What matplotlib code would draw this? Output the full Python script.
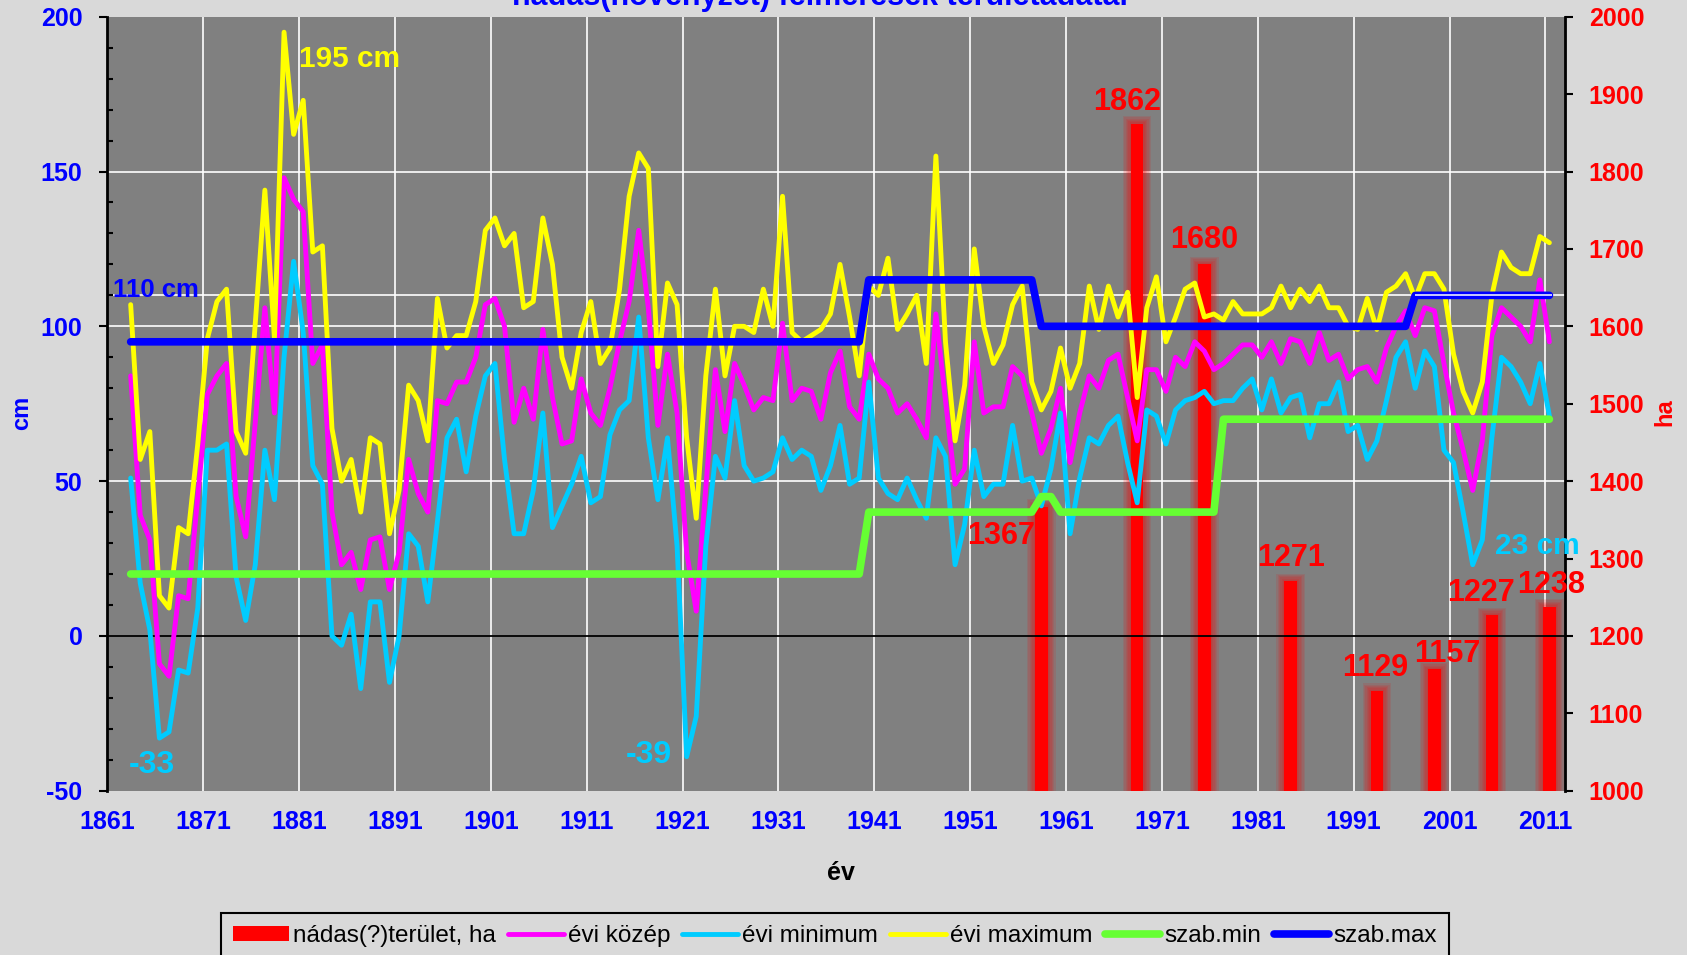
import matplotlib
matplotlib.use('Agg')
import matplotlib.pyplot as plt
from matplotlib.ticker import MultipleLocator

plt.rcParams['font.family'] = ['Liberation Sans', 'DejaVu Sans']
plt.rcParams['font.weight'] = 'bold'
plt.rcParams['axes.unicode_minus'] = False

# --- adatok (leolvasva az ábráról) ---
years = list(range(1863, 2012))

evi_maximum = [
    107, 57, 66, 13, 9, 35, 33, 62, 96, 108,
    112, 66, 59, 101, 144, 96, 195, 162, 173, 124,
    126, 67, 50, 57, 40, 64, 62, 33, 47, 81,
    76, 63, 109, 93, 97, 97, 108, 131, 135, 126,
    130, 106, 108, 135, 120, 90, 80, 98, 108, 88,
    93, 112, 142, 156, 151, 87, 114, 107, 64, 38,
    84, 112, 84, 100, 100, 98, 112, 100, 142, 98,
    95, 97, 99, 104, 120, 103, 84, 113, 110, 122,
    99, 104, 110, 88, 155, 95, 63, 81, 125, 100,
    88, 94, 107, 113, 82, 73, 79, 93, 80, 88,
    113, 99, 113, 103, 111, 77, 106, 116, 95, 103,
    112, 114, 103, 104, 102, 108, 104, 104, 104, 106,
    113, 106, 112, 108, 113, 106, 106, 100, 99, 109,
    99, 111, 113, 117, 109, 117, 117, 112, 91, 79,
    72, 82, 110, 124, 119, 117, 117, 129, 127,
]

evi_kozep = [
    84, 39, 31, -9, -13, 13, 12, 45, 78, 84,
    88, 45, 32, 69, 106, 72, 148, 141, 137, 88,
    94, 40, 23, 27, 15, 31, 32, 15, 27, 57,
    46, 40, 76, 75, 82, 82, 90, 107, 109, 100,
    69, 80, 70, 99, 77, 62, 63, 83, 72, 68,
    80, 95, 108, 131, 106, 68, 91, 72, 27, 8,
    48, 86, 66, 88, 81, 73, 77, 76, 101, 76,
    80, 79, 70, 85, 92, 74, 70, 91, 83, 80,
    72, 75, 70, 64, 104, 76, 49, 54, 95, 72,
    74, 74, 87, 84, 72, 59, 67, 80, 56, 72,
    84, 80, 89, 91, 77, 63, 86, 86, 79, 90,
    87, 95, 92, 86, 88, 91, 94, 94, 90, 95,
    88, 96, 95, 88, 98, 89, 91, 83, 86, 87,
    82, 93, 100, 105, 97, 106, 105, 88, 72, 60,
    47, 63, 97, 106, 103, 100, 95, 115, 95,
]

evi_minimum = [
    51, 17, 2, -33, -31, -11, -12, 9, 60, 60,
    62, 19, 5, 23, 60, 44, 90, 121, 98, 55,
    49, 0, -3, 7, -17, 11, 11, -15, 0, 33,
    29, 11, 37, 64, 70, 53, 71, 84, 88, 57,
    33, 33, 47, 72, 35, 42, 49, 58, 43, 45,
    65, 73, 76, 103, 64, 44, 64, 29, -39, -26,
    29, 58, 51, 76, 55, 50, 51, 53, 64, 57,
    60, 58, 47, 55, 68, 49, 51, 82, 51, 46,
    44, 51, 44, 38, 64, 58, 23, 36, 60, 45,
    49, 49, 68, 50, 51, 42, 54, 72, 33, 51,
    64, 62, 68, 71, 56, 43, 73, 71, 62, 73,
    76, 77, 79, 75, 76, 76, 80, 83, 73, 83,
    72, 77, 78, 64, 75, 75, 82, 66, 68, 57,
    63, 76, 90, 95, 80, 92, 87, 60, 56, 40,
    23, 31, 64, 90, 87, 82, 75, 88, 71,
]

szab_min = [
    20, 20, 20, 20, 20, 20, 20, 20, 20, 20,
    20, 20, 20, 20, 20, 20, 20, 20, 20, 20,
    20, 20, 20, 20, 20, 20, 20, 20, 20, 20,
    20, 20, 20, 20, 20, 20, 20, 20, 20, 20,
    20, 20, 20, 20, 20, 20, 20, 20, 20, 20,
    20, 20, 20, 20, 20, 20, 20, 20, 20, 20,
    20, 20, 20, 20, 20, 20, 20, 20, 20, 20,
    20, 20, 20, 20, 20, 20, 20, 40, 40, 40,
    40, 40, 40, 40, 40, 40, 40, 40, 40, 40,
    40, 40, 40, 40, 40, 45, 45, 40, 40, 40,
    40, 40, 40, 40, 40, 40, 40, 40, 40, 40,
    40, 40, 40, 40, 70, 70, 70, 70, 70, 70,
    70, 70, 70, 70, 70, 70, 70, 70, 70, 70,
    70, 70, 70, 70, 70, 70, 70, 70, 70, 70,
    70, 70, 70, 70, 70, 70, 70, 70, 70,
]

szab_max = [
    95, 95, 95, 95, 95, 95, 95, 95, 95, 95,
    95, 95, 95, 95, 95, 95, 95, 95, 95, 95,
    95, 95, 95, 95, 95, 95, 95, 95, 95, 95,
    95, 95, 95, 95, 95, 95, 95, 95, 95, 95,
    95, 95, 95, 95, 95, 95, 95, 95, 95, 95,
    95, 95, 95, 95, 95, 95, 95, 95, 95, 95,
    95, 95, 95, 95, 95, 95, 95, 95, 95, 95,
    95, 95, 95, 95, 95, 95, 95, 115, 115, 115,
    115, 115, 115, 115, 115, 115, 115, 115, 115, 115,
    115, 115, 115, 115, 115, 100, 100, 100, 100, 100,
    100, 100, 100, 100, 100, 100, 100, 100, 100, 100,
    100, 100, 100, 100, 100, 100, 100, 100, 100, 100,
    100, 100, 100, 100, 100, 100, 100, 100, 100, 100,
    100, 100, 100, 100, 110, 110, 110, 110, 110, 110,
    110, 110, 110, 110, 110, 110, 110, 110, 110,
]

nadas_ev = [1958, 1968, 1975, 1984, 1993, 1999, 2005, 2011]
nadas_ha = [1367, 1862, 1680, 1271, 1129, 1157, 1227, 1238]
# címkék eltolása pontban (x, y) az oszlop tetejéhez képest
nadas_cimke_eltolas = [(-29, -27), (-7, 10), (0, 12), (0, 11), (-1, 11), (9, 5), (-8, 10), (1, 10)]

xtick_labels = ['1861', '1871', '1881', '1891', '1901', '1911', '1921', '1931',
                '1941', '1951', '1961', '1971', '1981', '1991', '2001', '2011']

BG = '#D9D9D9'
PLOT_BG = '#808080'
SHIFT = 0.42  # Excel kategória tengely eltolás

fig = plt.figure(figsize=(16.87, 9.55), dpi=100, facecolor=BG)
ax1 = fig.add_axes([0.0637, 0.172, 0.864, 0.8105])
ax2 = ax1.twinx()
ax1.set_zorder(2)
ax2.set_zorder(1)
ax1.patch.set_visible(False)
ax2.patch.set_visible(True)
ax2.set_facecolor(PLOT_BG)

xticks = [int(t) - SHIFT for t in xtick_labels]
ax1.set_xlim(1861 - SHIFT, 2012.63)
ax1.set_ylim(-50, 200)
ax2.set_ylim(1000, 2000)

# rácsvonalak (az oszlopok mögött)
for t in xticks:
    ax2.axvline(t, color='white', lw=1.2, zorder=0)
for v in [1400, 1600, 1800]:
    ax2.axhline(v, color='white', lw=1.2, zorder=0)
ax2.axhline(1640, color='white', lw=1.2, zorder=0.5)

# nádas oszlopok, "ragyogással"
for k in range(6, 0, -1):
    ax2.bar(nadas_ev, [v + 1.6 * k for v in nadas_ha], width=1.3 + 0.28 * k,
            color='#FF0000', alpha=0.1, linewidth=0, zorder=1)
bars = ax2.bar(nadas_ev, nadas_ha, width=1.3, color='#FF0000', linewidth=0, zorder=2,
               label='nádas(?)terület, ha')
for x, v, (dx, dy) in zip(nadas_ev, nadas_ha, nadas_cimke_eltolas):
    ax2.annotate(str(v), (x, v), xytext=(dx, dy), textcoords='offset points',
                 ha='center', va='baseline', color='#FF0000', fontsize=22,
                 fontweight='bold', zorder=5, annotation_clip=False)

# vízállás vonalak
ax1.axhline(0, color='black', lw=1.3, zorder=1.5)
lkw = dict(solid_capstyle='round', solid_joinstyle='round')
l1, = ax1.plot(years, evi_kozep, color='#FF00FF', lw=3.5, zorder=3, label='évi közép', **lkw)
l2, = ax1.plot(years, evi_minimum, color='#00CCFF', lw=3.5, zorder=4, label='évi minimum', **lkw)
l3, = ax1.plot(years, evi_maximum, color='#FFFF00', lw=3.5, zorder=5, label='évi maximum', **lkw)
l4, = ax1.plot(years, szab_min, color='#66FF33', lw=5.5, zorder=6, label='szab.min', **lkw)
l5, = ax1.plot(years, szab_max, color='#0000FF', lw=5.5, zorder=7, label='szab.max', **lkw)
ev110 = [y for y, v in zip(years, szab_max) if v == 110]
ax1.hlines(110, ev110[0], ev110[-1] + 0.3, color='white', lw=1.1, zorder=8)

# tengelyek
for s in ['top', 'bottom', 'right']:
    ax1.spines[s].set_visible(False)
for s in ['top', 'bottom', 'left']:
    ax2.spines[s].set_visible(False)
ax1.spines['left'].set_linewidth(2)
ax2.spines['right'].set_linewidth(2)

ax1.set_xticks(xticks)
ax1.set_xticklabels(xtick_labels)
ax1.yaxis.set_major_locator(MultipleLocator(50))
ax1.yaxis.set_minor_locator(MultipleLocator(10))
ax1.tick_params(axis='x', length=0, pad=14, labelsize=18, labelcolor='#0000FF')
ax1.tick_params(axis='y', which='major', direction='out', length=6, width=1.5,
                pad=12, labelsize=18, labelcolor='#0000FF')
ax1.tick_params(axis='y', which='minor', direction='in', length=4.5, width=1.5)
ax2.yaxis.set_major_locator(MultipleLocator(100))
ax2.tick_params(axis='y', which='major', direction='out', length=6, width=1.5,
                pad=11, labelsize=18, labelcolor='#FF0000')

# feliratok
ax1.text(1880.57, 183.75, '195 cm', color='#FFFF00', fontsize=21.5, fontweight='bold',
         ha='left', va='baseline', zorder=9)
ax1.text(1861.13, 109.5, '110 cm', color='#0000FF', fontsize=18.5, fontweight='bold',
         ha='left', va='baseline', zorder=9)
ax1.text(1862.77, -44.3, '-33', color='#00CCFF', fontsize=23, fontweight='bold',
         ha='left', va='baseline', zorder=9)
ax1.text(1914.68, -41, '-39', color='#00CCFF', fontsize=23, fontweight='bold',
         ha='left', va='baseline', zorder=9)
ax1.text(2005.33, 26.4, '23 cm', color='#00CCFF', fontsize=21.5, fontweight='bold',
         ha='left', va='baseline', zorder=9)

fig.text(0.4858, 0.99476, 'nádas(növényzet) felmérések területadatai', color='#0000FF',
         fontsize=22, fontweight='bold', ha='center', va='baseline')
fig.text(0.013, 0.5675, 'cm', color='#0000FF', fontsize=17, fontweight='bold',
         rotation=90, ha='center', va='center')
fig.text(0.987, 0.5686, 'ha', color='#FF0000', fontsize=17, fontweight='bold',
         rotation=90, ha='center', va='center')
fig.text(0.4985, 0.0785, 'év', color='black', fontsize=18, fontweight='bold',
         ha='center', va='baseline')

leg = fig.legend([bars, l1, l2, l3, l4, l5],
                 ['nádas(?)terület, ha', 'évi közép', 'évi minimum', 'évi maximum',
                  'szab.min', 'szab.max'],
                 loc='upper left', bbox_to_anchor=(221 / 1687, 1 - 912.7 / 955),
                 ncol=6, frameon=True, fancybox=False, framealpha=1,
                 facecolor=BG, edgecolor='black', borderaxespad=0,
                 prop={'size': 17.5, 'weight': 'normal'},
                 handlelength=2.29, handletextpad=0.17, columnspacing=0.5,
                 borderpad=0.5, handleheight=0.6)
leg.get_frame().set_linewidth(1.5)

fig.savefig('out.png', dpi=100, facecolor=fig.get_facecolor())
